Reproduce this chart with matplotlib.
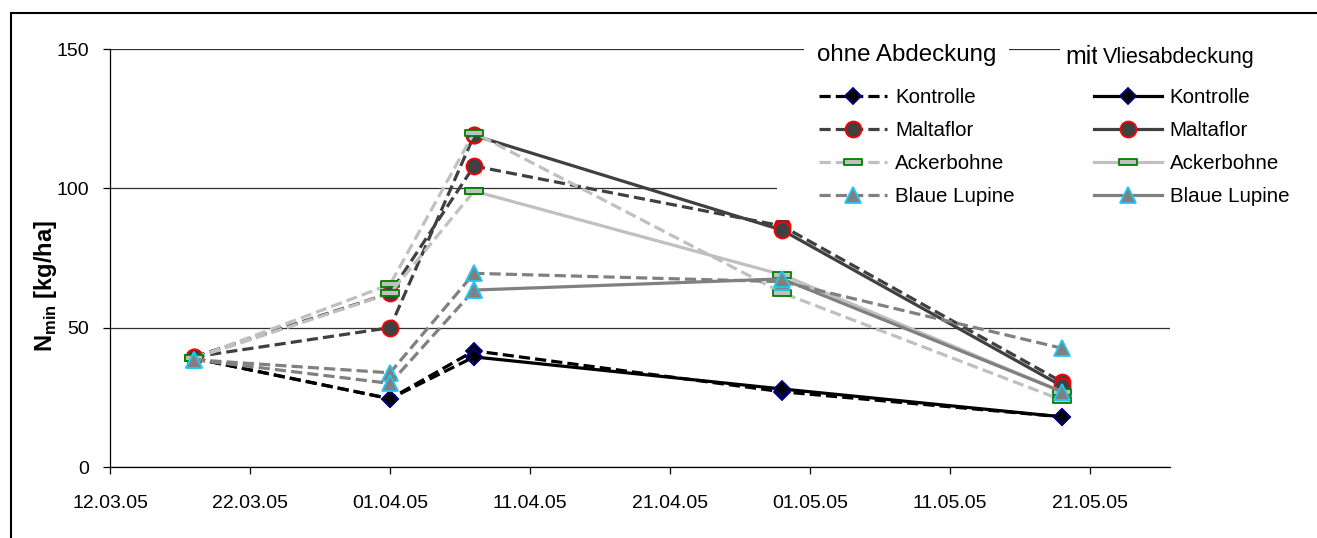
import matplotlib
matplotlib.use('Agg')
import matplotlib.pyplot as plt
import matplotlib.dates as mdates
from matplotlib.path import Path
from matplotlib.patches import Rectangle
import pandas as pd

plt.rcParams['font.family'] = ['Liberation Sans', 'DejaVu Sans']
plt.rcParams['mathtext.fontset'] = 'custom'
plt.rcParams['mathtext.rm'] = 'Liberation Sans'
plt.rcParams['mathtext.bf'] = 'Liberation Sans:bold'

# sampling dates
dates = pd.to_datetime(['2005-03-18', '2005-04-01', '2005-04-07',
                        '2005-04-29', '2005-05-19'])
names = ['Kontrolle', 'Maltaflor', 'Ackerbohne', 'Blaue Lupine']

# ohne Abdeckung (kg/ha)
kontrolle_ohne = [39, 24.5, 41.7, 27, 18]
maltaflor_ohne = [39.5, 62.4, 108, 86.5, 30.5]
ackerbohne_ohne = [39, 65.5, 120, 62.5, 24]
lupine_ohne = [38.5, 33.8, 69.5, 66.5, 42.6]

# mit Vliesabdeckung (kg/ha)
kontrolle_mit = [39, 24.5, 39.5, 28, 18]
maltaflor_mit = [39.5, 50, 119, 85, 29]
ackerbohne_mit = [39, 62.3, 99, 69, 27]
lupine_mit = [38.5, 30, 63.5, 67.5, 27]

xticks = pd.date_range('2005-03-12', '2005-05-21', freq='10D')

ohne = [kontrolle_ohne, maltaflor_ohne, ackerbohne_ohne, lupine_ohne]
mit = [kontrolle_mit, maltaflor_mit, ackerbohne_mit, lupine_mit]

# flat bar marker (Excel "dash")
dash_marker = Path([(-1, -0.3), (1, -0.3), (1, 0.3), (-1, 0.3), (-1, -0.3)],
                   [Path.MOVETO, Path.LINETO, Path.LINETO, Path.LINETO, Path.CLOSEPOLY])
line_colors = ['black', '#404040', '#c0c0c0', '#808080']
markers = ['D', 'o', dash_marker, '^']
msizes = [8.5, 11.5, 12.5, 12]
face = ['black', '#404040', '#c0c0c0', '#808080']
edge = ['#000080', 'red', '#008000', '#1ec8f5']

fig = plt.figure(figsize=(13.17, 5.38), dpi=100)
ax = fig.add_axes([110 / 1317, 71 / 538, 1060 / 1317, 418 / 538])

lw = 2.3
dash = (0, (3.5, 1.6))
handles_ohne, handles_mit = [], []
for i in range(4):
    st = dict(color=line_colors[i], lw=lw, marker=markers[i], ms=msizes[i],
              mfc=face[i], mec=edge[i], mew=1.3)
    h1, = ax.plot(dates, ohne[i], ls=dash, label=names[i], **st)
    # mit: dashed until 07.04, solid afterwards
    ax.plot(dates[:3], mit[i][:3], ls=dash, **st)
    h2, = ax.plot(dates[2:], mit[i][2:], ls='-', label=names[i], **st)
    handles_ohne.append(h1)
    handles_mit.append(h2)

ax.set_ylim(0, 150)
ax.set_yticks([0, 50, 100, 150])
ax.set_xlim(pd.Timestamp('2005-03-12'), pd.Timestamp('2005-03-12') + pd.Timedelta(days=75.7))
ax.set_xticks(xticks)
ax.xaxis.set_major_formatter(mdates.DateFormatter('%d.%m.%y'))
ax.grid(axis='y', color='#303030', lw=0.9)
ax.set_axisbelow(True)
for s in ['top', 'right']:
    ax.spines[s].set_visible(False)
for s in ['left', 'bottom']:
    ax.spines[s].set_linewidth(0.9)
ax.tick_params(labelsize=14, length=5, width=0.9)
ax.tick_params(axis='y', pad=10)
ax.tick_params(axis='x', pad=15)
ax.set_ylabel(r'N$_\mathbf{min}$ [kg/ha]', fontsize=17, fontweight='bold')
ax.yaxis.set_label_coords(-0.048, 0.433)

# white area behind the legend
ax.add_patch(Rectangle((777 / 1317, 1 - 220 / 538), 540 / 1317, 150 / 538,
                       transform=fig.transFigure, facecolor='white',
                       edgecolor='none', zorder=3, clip_on=False))

leg = ax.legend(handles_ohne + handles_mit, names + names, ncol=2,
                loc='upper left', bbox_to_anchor=(819 / 1317, 1 - 88 / 538),
                bbox_transform=fig.transFigure, fontsize=14.8, frameon=False,
                handlelength=3.3, handletextpad=0.4, columnspacing=3.85,
                labelspacing=0.68, borderpad=0, borderaxespad=0)
leg.set_zorder(5)

fig.text(817 / 1317, 1 - 55 / 538, 'ohne Abdeckung', fontsize=17.4, va='center',
         zorder=6, bbox=dict(facecolor='white', edgecolor='none', pad=9))
fig.text(1065 / 1317, 1 - 57 / 538, 'mit', fontsize=18, va='center', zorder=6,
         bbox=dict(facecolor='white', edgecolor='none', pad=4))
fig.text(1103 / 1317, 1 - 57 / 538, 'Vliesabdeckung', fontsize=15.5, va='center',
         family=['Liberation Sans Narrow', 'Liberation Sans'], zorder=6,
         bbox=dict(facecolor='white', edgecolor='none', pad=4))

# outer frame of the chart (right and bottom lie outside the picture)
fig.patches.append(Rectangle((11 / 1317, -0.5), 2, 0.5 + 1 - 13 / 538,
                             transform=fig.transFigure, fill=False,
                             edgecolor='black', lw=1.5, zorder=7))

fig.savefig('out.png', dpi=100)
